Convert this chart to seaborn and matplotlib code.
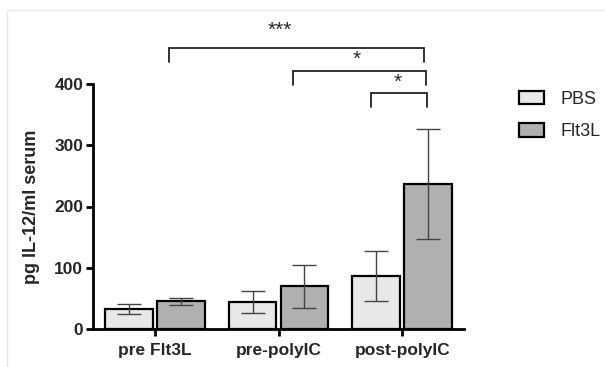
import matplotlib
matplotlib.use("Agg")
import matplotlib.pyplot as plt
import seaborn as sns
import pandas as pd
from matplotlib.lines import Line2D
from matplotlib.patches import Patch

categories = ["pre Flt3L", "pre-polyIC", "post-polyIC"]
groups = ["PBS", "Flt3L"]
pbs_mean = [33, 44, 87]
pbs_err = [8, 18, 41]
flt_mean = [45, 70, 237]
flt_err = [6, 35, 90]
yticks = [0, 100, 200, 300, 400]

sns.set_theme(style="white")
plt.rcParams["font.family"] = ["Liberation Sans", "DejaVu Sans"]

df = pd.DataFrame({
    "cond": categories * 2,
    "group": ["PBS"] * 3 + ["Flt3L"] * 3,
    "val": pbs_mean + flt_mean,
    "err": pbs_err + flt_err,
})

fig = plt.figure(figsize=(6.05, 3.67), dpi=100)
ax = fig.add_axes([93 / 605, 1 - 329 / 367, (464 - 93) / 605, (329 - 84) / 367])

palette = {"PBS": "#e8e8e8", "Flt3L": "#b0b0b0"}
sns.barplot(data=df, x="cond", y="val", hue="group", hue_order=groups,
            order=categories, palette=palette, errorbar=None, width=0.84,
            gap=0.08, edgecolor="black", linewidth=1.6, ax=ax, legend=False)

# error bars at bar centres
for bar_group, g in zip(ax.containers, groups):
    sub = df[df.group == g].set_index("cond").loc[categories]
    xs = [p.get_x() + p.get_width() / 2 for p in bar_group]
    ax.errorbar(xs, sub["val"], yerr=sub["err"], fmt="none", ecolor="#444444",
                elinewidth=1.0, capsize=8.7, capthick=1.0, zorder=5)

ax.set_xlim(-0.5, 2.5)
ax.set_ylim(0, 400)
ax.set_yticks(yticks)
ax.set_xlabel("")
ax.set_ylabel("pg IL-12/ml serum", fontsize=13, fontweight="bold", labelpad=10)
for s in ["top", "right"]:
    ax.spines[s].set_visible(False)
for s in ["left", "bottom"]:
    ax.spines[s].set_linewidth(2)
    ax.spines[s].set_color("black")
ax.tick_params(axis="both", length=5, width=2, color="black", direction="out",
               labelsize=12.5)
ax.tick_params(axis="x", pad=5)
ax.tick_params(axis="y", pad=2)
ax.tick_params(axis="both", which="major", bottom=True, left=True)
for lab in ax.get_xticklabels() + ax.get_yticklabels():
    lab.set_fontweight("bold")

# significance brackets
def bracket(x1, x2, y, yl, yr, text, tx, ty):
    ax.plot([x1, x1, x2, x2], [yl, y, y, yr], color="#222222", lw=1.3,
            clip_on=False, solid_joinstyle="miter")
    ax.text(tx, ty, text, ha="center", va="center", fontsize=15,
            clip_on=False)

bracket(0.113, 2.18, 458, 436, 436, "***", 1.01, 487)
bracket(1.117, 2.19, 422, 398, 398, "*", 1.63, 440)
bracket(1.75, 2.20, 385, 362, 362, "*", 1.96, 402)

handles = [Patch(facecolor=palette[g], edgecolor="black", linewidth=1.6, label=g)
           for g in groups]
fig.legend(handles=handles, loc="upper left", bbox_to_anchor=(519 / 605, 1 - 91 / 367),
           frameon=False, fontsize=13, handlelength=1.4, handleheight=0.75,
           labelspacing=0.85, handletextpad=0.9, borderpad=0, borderaxespad=0)

# faint frame lines
fig.add_artist(Line2D([8 / 605, 1], [1 - 10 / 367] * 2, color="#e6e6e6", lw=1))
fig.add_artist(Line2D([7 / 605] * 2, [0, 1 - 10 / 367], color="#e6e6e6", lw=1))

fig.savefig("out.png", dpi=100)
